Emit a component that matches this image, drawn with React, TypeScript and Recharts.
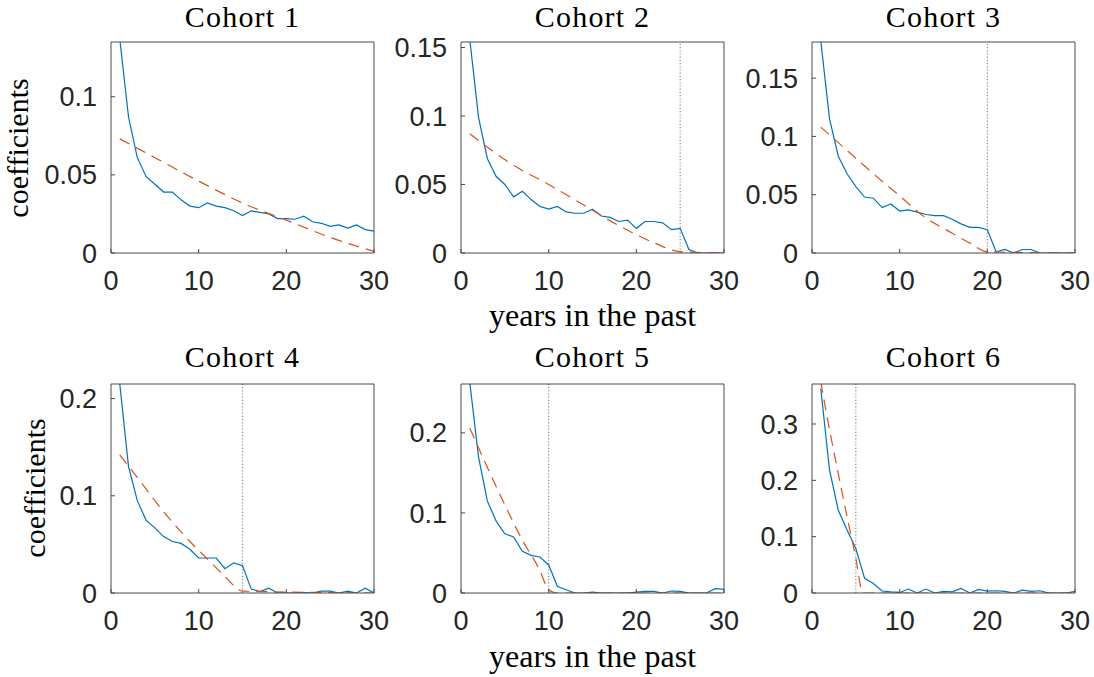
import React from 'react';
import { LineChart, Line, XAxis, YAxis, ReferenceLine } from 'recharts';

// years in the past (x of the estimated coefficients)
const years = [1, 2, 3, 4, 5, 6, 7, 8, 9, 10, 11, 12, 13, 14, 15, 16, 17, 18, 19, 20, 21, 22, 23, 24, 25, 26, 27, 28, 29, 30];
const xTicks = [0, 10, 20, 30];

// estimated coefficients per cohort (blue)
const cohort1 = [0.137, 0.087, 0.061, 0.049, 0.044, 0.039, 0.039, 0.034, 0.030, 0.029, 0.032, 0.030, 0.029, 0.027, 0.024, 0.027, 0.026, 0.025, 0.022, 0.022, 0.0216, 0.0235, 0.020, 0.019, 0.017, 0.018, 0.016, 0.018, 0.015, 0.014];
const cohort2 = [0.156, 0.099, 0.069, 0.056, 0.050, 0.041, 0.045, 0.039, 0.034, 0.032, 0.034, 0.030, 0.029, 0.029, 0.032, 0.027, 0.026, 0.023, 0.024, 0.018, 0.023, 0.023, 0.022, 0.017, 0.018, 0.0025, 0, 0, 0, 0];
const cohort3 = [0.182, 0.115, 0.083, 0.068, 0.057, 0.048, 0.047, 0.039, 0.042, 0.036, 0.037, 0.035, 0.033, 0.032, 0.032, 0.029, 0.025, 0.022, 0.022, 0.020, 0.001, 0.003, 0, 0.003, 0.003, 0, 0, 0, 0, 0];
const cohort4 = [0.215, 0.130, 0.095, 0.075, 0.067, 0.058, 0.053, 0.051, 0.045, 0.036, 0.036, 0.036, 0.025, 0.031, 0.028, 0.004, 0.0014, 0.005, 0, 0, 0, 0.0005, 0, 0.002, 0.002, 0, 0.002, 0, 0.005, 0];
const cohort5 = [0.263, 0.170, 0.115, 0.090, 0.074, 0.070, 0.052, 0.047, 0.045, 0.035, 0.008, 0.004, 0, 0, 0.001, 0, 0, 0, 0, 0.001, 0.002, 0.002, 0, 0.0025, 0.002, 0, 0, 0, 0.0055, 0.0046];
const cohort6 = [0.363, 0.218, 0.147, 0.112, 0.079, 0.026, 0.017, 0.0036, 0.002, 0.001, 0.007, 0, 0.007, 0, 0.003, 0.002, 0.008, 0, 0.0065, 0.0035, 0.004, 0.003, 0, 0.005, 0.003, 0.004, 0, 0, 0, 0.003];

// fitted curves (red dashed), read at a few x positions
const fit1X = [1, 5, 10, 15, 20, 25, 30];
const fit1Y = [0.073, 0.061, 0.046, 0.032, 0.021, 0.010, 0.001];
const fit2X = [1, 6, 10, 14, 18, 22, 25, 30];
const fit2Y = [0.087, 0.064, 0.050, 0.035, 0.020, 0.0075, 0.001, 0];
const fit3X = [1, 4, 7, 10, 13, 16, 18, 20, 30];
const fit3Y = [0.108, 0.088, 0.068, 0.049, 0.030, 0.017, 0.0085, 0.001, 0];
const fit4X = [1, 3, 5, 7, 9, 11, 13, 15, 30];
const fit4Y = [0.142, 0.119, 0.095, 0.073, 0.053, 0.035, 0.017, 0.002, 0];
const fit5X = [1, 3, 5, 7, 9, 10, 11, 30];
const fit5Y = [0.206, 0.157, 0.110, 0.066, 0.028, 0.004, 0, 0];
const fit6X = [1, 2, 3, 4, 5, 5.8, 30];
const fit6Y = [0.375, 0.290, 0.212, 0.135, 0.062, 0, 0];

const cutoffs = [null, 25, 20, 15, 10, 5];
const yMaxes = [0.135, 0.154, 0.181, 0.215, 0.261, 0.371];
const yTicks = [
  [0, 0.05, 0.1],
  [0, 0.05, 0.1, 0.15],
  [0, 0.05, 0.1, 0.15],
  [0, 0.1, 0.2],
  [0, 0.1, 0.2],
  [0, 0.1, 0.2, 0.3],
];

const cohorts = [cohort1, cohort2, cohort3, cohort4, cohort5, cohort6];
const fitXs = [fit1X, fit2X, fit3X, fit4X, fit5X, fit6X];
const fitYs = [fit1Y, fit2Y, fit3Y, fit4Y, fit5Y, fit6Y];

const colLeft = [111, 461, 812];
const rowTop = [42, 384];
const rowHeight = [211, 209];
const plotW = 263;
const axisColor = '#4a4a4a';
const tickFont = { fill: '#262626', fontSize: 27, fontFamily: 'Liberation Sans, Arial, sans-serif' };
const serif = 'Liberation Serif, Times New Roman, serif';

const Panel = ({ idx }: { idx: number }) => {
  const row = Math.floor(idx / 3);
  const left = colLeft[idx % 3];
  const top = rowTop[row];
  const plotH = rowHeight[row];
  const blue = years.map((x, i) => ({ x, y: cohorts[idx][i] }));
  const fit = fitXs[idx].map((x, i) => ({ x, y: fitYs[idx][i] }));
  const yMax = yMaxes[idx];
  // top axis takes 1px, right axis takes 1px: margins shrink by the same
  return (
    <div style={{ position: 'absolute', left: left - 80, top: top - 10 }}>
      <LineChart width={80 + plotW + 20} height={10 + plotH + 50} margin={{ top: 9, right: 19, left: 0, bottom: 0 }}>
        <XAxis type="number" dataKey="x" domain={[0, 30]} ticks={xTicks} interval={0} allowDataOverflow
          height={50} tickSize={-4} tickMargin={22} axisLine={{ stroke: axisColor }} tickLine={{ stroke: axisColor }} tick={tickFont} />
        <XAxis xAxisId="top" orientation="top" type="number" dataKey="x" domain={[0, 30]} ticks={xTicks} interval={0} allowDataOverflow
          height={1} tickSize={-4} axisLine={{ stroke: axisColor }} tickLine={{ stroke: axisColor }} tick={false} />
        <YAxis type="number" domain={[0, yMax]} ticks={yTicks[idx]} interval={0} allowDataOverflow
          width={80} tickSize={-4} tickMargin={18} axisLine={{ stroke: axisColor }} tickLine={{ stroke: axisColor }} tick={tickFont} />
        <YAxis yAxisId="right" orientation="right" type="number" domain={[0, yMax]} ticks={yTicks[idx]} interval={0} allowDataOverflow
          width={1} tickSize={-4} axisLine={{ stroke: axisColor }} tickLine={{ stroke: axisColor }} tick={false} />
        {cutoffs[idx] !== null && (
          <ReferenceLine x={cutoffs[idx] as number} stroke="#8a8a8a" strokeDasharray="1.2 2" strokeWidth={1.2} />
        )}
        <Line data={blue} dataKey="y" xAxisId="top" yAxisId="right" stroke="none" dot={false} activeDot={false} legendType="none" isAnimationActive={false} />
        <Line data={blue} dataKey="y" type="linear" stroke="#0072BD" strokeWidth={1.2} dot={false} isAnimationActive={false} />
        <Line data={fit} dataKey="y" type="monotone" stroke="#D95319" strokeWidth={1.2} strokeDasharray="11 7" dot={false} isAnimationActive={false} />
      </LineChart>
    </div>
  );
};

export default function App() {
  const titleX = colLeft.map((l) => l + plotW / 2);
  return (
    <div style={{ position: 'absolute', left: 0, top: 0, width: 1094, height: 677, background: '#fff' }}>
      {[0, 1, 2, 3, 4, 5].map((i) => <Panel key={i} idx={i} />)}
      <svg width={1094} height={677} style={{ position: 'absolute', left: 0, top: 0, pointerEvents: 'none' }}>
        {[0, 1, 2, 3, 4, 5].map((i) => (
          <text key={i} x={titleX[i % 3]} y={i < 3 ? 27 : 367} textAnchor="middle" fontFamily={serif} fontSize={30} letterSpacing={1.2} fill="#000">
            {`Cohort ${i + 1}`}
          </text>
        ))}
        <text x={titleX[1]} y={326} textAnchor="middle" fontFamily={serif} fontSize={32} fill="#000">years in the past</text>
        <text x={titleX[1]} y={667} textAnchor="middle" fontFamily={serif} fontSize={32} fill="#000">years in the past</text>
        <text transform="translate(28,148) rotate(-90)" textAnchor="middle" fontFamily={serif} fontSize={30} fill="#000">coefficients</text>
        <text transform="translate(45,488) rotate(-90)" textAnchor="middle" fontFamily={serif} fontSize={30} fill="#000">coefficients</text>
      </svg>
    </div>
  );
}
